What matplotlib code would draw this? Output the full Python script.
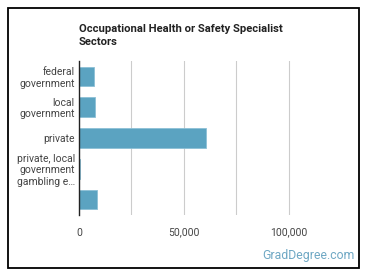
import matplotlib
matplotlib.use('Agg')
import matplotlib.pyplot as plt
from matplotlib.patches import Rectangle
from matplotlib.ticker import FuncFormatter

# =============================================================================
# DATA
# =============================================================================
sectors = ['federal\ngovernment', 'local\ngovernment', 'private',
           'private, local\ngovernment\ngambling e\u2026', '']
employees = [7100, 7800, 60500, 500, 8700]
x_ticks = [0, 50000, 100000]
title = 'Occupational Health or Safety Specialist\nSectors'

# =============================================================================
# PLOT
# =============================================================================
plt.rcParams['font.family'] = ['Roboto', 'DejaVu Sans']

fig = plt.figure(figsize=(3.7, 2.78), dpi=100)
fig.patch.set_facecolor('white')

## outer frame
fig.add_artist(Rectangle((8/370, 10/278), 351/370, 260/278, transform=fig.transFigure,
                         fill=False, edgecolor='black', linewidth=1.3, zorder=10))

ax = fig.add_axes([79/370, 63/278, 262/370, 154/278])
ypos = list(range(len(sectors)))
ax.barh(ypos, employees, height=0.63, color='#5ba3c1', edgecolor='#8cc0d6', linewidth=0.6, zorder=3)
ax.set_yticks(ypos)
ax.set_yticklabels(sectors, fontsize=7.5, color='#444444', linespacing=1.15)
ax.set_ylim(len(sectors) - 0.5, -0.5)
ax.set_xlim(0, 125000)
ax.set_xticks(x_ticks)
ax.xaxis.set_major_formatter(FuncFormatter(lambda v, p: '{:,.0f}'.format(v)))
ax.set_xticks([25000, 75000], minor=True)
ax.tick_params(axis='x', which='both', length=0, labelsize=7.5, labelcolor='#444444', pad=9)
ax.tick_params(axis='y', length=0, pad=3)
ax.grid(axis='x', which='both', color='#cccccc', linewidth=0.8, zorder=0)
for s in ['top', 'right', 'bottom']:
    ax.spines[s].set_visible(False)
ax.spines['left'].set_color('#222222')
ax.spines['left'].set_linewidth(1.0)
ax.spines['left'].set_zorder(4)

fig.text(79/370, 1 - 35.5/278, title, fontsize=8.1, fontweight='bold', color='#222222',
         va='center', ha='left', linespacing=1.3)
fig.text(355/370, 1 - 256/278, 'GradDegree.com', fontsize=8.8, color='#6fa8c4',
         ha='right', va='center')

fig.savefig('out.png', dpi=100)
